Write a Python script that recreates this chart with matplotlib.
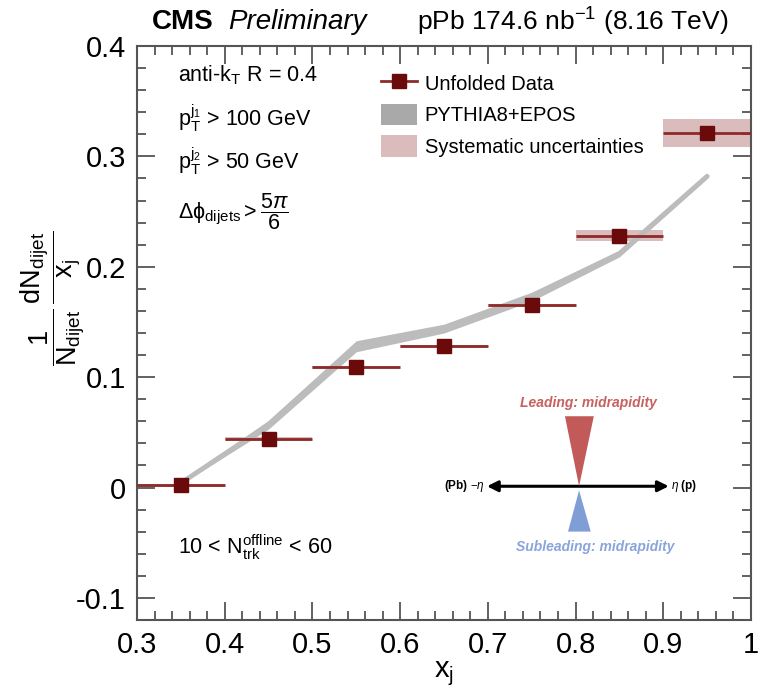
import numpy as np
import matplotlib
matplotlib.use("Agg")
import matplotlib.pyplot as plt
from matplotlib.patches import Rectangle, Polygon, Patch
from matplotlib.lines import Line2D

plt.rcParams['font.family'] = ['Liberation Sans', 'DejaVu Sans']
plt.rcParams['mathtext.fontset'] = 'custom'
plt.rcParams['mathtext.rm'] = 'Liberation Sans'
plt.rcParams['mathtext.it'] = 'Liberation Sans:italic'
plt.rcParams['mathtext.bf'] = 'Liberation Sans:bold'

# x_j bins and unfolded dijet distribution
xj_centers = [0.35, 0.45, 0.55, 0.65, 0.75, 0.85, 0.95]
xj_halfwidth = [0.05, 0.05, 0.05, 0.05, 0.05, 0.05, 0.05]
data_vals = [0.002, 0.044, 0.109, 0.128, 0.165, 0.228, 0.321]
syst_vals = [0.0015, 0.0015, 0.0015, 0.0015, 0.0015, 0.005, 0.0125]

# PYTHIA8+EPOS prediction (band)
mc_vals = [0.004, 0.057, 0.128, 0.144, 0.173, 0.212, 0.282]
mc_err = [0.001, 0.004, 0.005, 0.004, 0.004, 0.003, 0.002]

xticks = [0.3, 0.4, 0.5, 0.6, 0.7, 0.8, 0.9, 1.0]
xtick_labels = ['0.3', '0.4', '0.5', '0.6', '0.7', '0.8', '0.9', '1']
yticks = [-0.1, 0, 0.1, 0.2, 0.3, 0.4]
ytick_labels = ['-0.1', '0', '0.1', '0.2', '0.3', '0.4']

DATA_RED = '#6a0a0a'
BAR_RED = '#8e2a2a'
SYST_PINK = '#dbbcbc'
MC_GRAY = '#bcbcbc'
AXIS_GRAY = '#555555'

fig = plt.figure(figsize=(7.59, 6.95), dpi=100)
ax = fig.add_axes([137 / 759, 75 / 695, 614 / 759, 574 / 695])

ax.set_xlim(0.3, 1.0)
ax.set_ylim(-0.12, 0.4)

# systematic uncertainty boxes
for x, hw, y, s in zip(xj_centers, xj_halfwidth, data_vals, syst_vals):
    ax.add_patch(Rectangle((x - hw, y - s), 2 * hw, 2 * s,
                           facecolor=SYST_PINK, edgecolor='none', zorder=1))

# MC band
mc = np.array(mc_vals)
me = np.array(mc_err)
ax.fill_between(xj_centers, mc - me, mc + me, color=MC_GRAY, lw=0, zorder=2)
ax.plot(xj_centers, mc_vals, color=MC_GRAY, lw=3.5, solid_joinstyle='round',
        solid_capstyle='round', zorder=2)

# data points with bin-width bars
ax.errorbar(xj_centers, data_vals, xerr=xj_halfwidth, fmt='none',
            ecolor=BAR_RED, elinewidth=2.0, capsize=0, zorder=3)
ax.plot(xj_centers, data_vals, 's', color=DATA_RED, markersize=10, zorder=4)

# axes style
ax.set_xticks(xticks)
ax.set_xticklabels(xtick_labels)
ax.set_yticks(yticks)
ax.set_yticklabels(ytick_labels)
ax.set_xticks(np.arange(0.3, 1.0001, 0.02), minor=True)
ax.set_yticks(np.arange(-0.12, 0.4001, 0.02), minor=True)
ax.tick_params(which='both', direction='in', top=True, right=True,
               color=AXIS_GRAY, labelsize=21, width=1.3)
ax.tick_params(which='major', length=13, pad=8)
ax.tick_params(which='minor', length=6.5)
for sp in ax.spines.values():
    sp.set_color(AXIS_GRAY)
    sp.set_linewidth(1.5)

ax.set_xlabel(r'$\mathrm{x_{j}}$', fontsize=21, labelpad=0)
fig.text(0.07, 0.57,
         r'$\dfrac{1}{\mathrm{N_{dijet}}}\,\dfrac{\mathrm{dN_{dijet}}}{\mathrm{x_{j}}}$',
         rotation=90, ha='center', va='center', fontsize=19.5)

# header
fig.text(152 / 759, 1 - 22 / 695, 'CMS', fontsize=20, fontweight='bold',
         ha='left', va='center')
fig.text(228 / 759, 1 - 22 / 695, 'Preliminary', fontsize=20, style='italic',
         ha='left', va='center')
fig.text(728 / 759, 1 - 22 / 695, r'pPb 174.6 nb$^{\mathrm{-1}}$ (8.16 TeV)',
         fontsize=19, ha='right', va='center')

# selection labels
tx = 0.067
ax.text(tx, 0.949, r'anti-k$_{\mathrm{T}}$ R = 0.4', transform=ax.transAxes,
        fontsize=15.5, va='center')
ax.text(tx, 0.874, r'p$_{\mathrm{T}}^{\mathrm{j_1}}$ > 100 GeV', transform=ax.transAxes,
        fontsize=15.5, va='center')
ax.text(tx, 0.799, r'p$_{\mathrm{T}}^{\mathrm{j_2}}$ > 50 GeV', transform=ax.transAxes,
        fontsize=15.5, va='center')
ax.text(tx, 0.712, r'$\mathrm{\Delta\phi_{dijets}} > \dfrac{5\pi}{6}$',
        transform=ax.transAxes, fontsize=15.5, va='center')
ax.text(tx, 0.127, r'10 < N$_{\mathrm{trk}}^{\mathrm{offline}}$ < 60',
        transform=ax.transAxes, fontsize=15.5, va='center')

# legend
handles = [
    Line2D([0], [0], color=BAR_RED, lw=2.0, marker='s', markersize=10,
           markerfacecolor=DATA_RED, markeredgecolor=DATA_RED),
    Patch(facecolor='#a9a9a9', edgecolor='none'),
    Patch(facecolor=SYST_PINK, edgecolor='none'),
]
labels = ['Unfolded Data', 'PYTHIA8+EPOS', 'Systematic uncertainties']
ax.legend(handles, labels, loc='upper left', bbox_to_anchor=(0.385, 0.968),
          frameon=False, fontsize=14.5, handlelength=1.75, handleheight=1.25,
          labelspacing=0.5, handletextpad=0.4, borderaxespad=0)

# kinematic sketch
arrow_y = 0.233
ax.annotate('', xy=(0.570, arrow_y), xytext=(0.866, arrow_y),
            xycoords='axes fraction',
            arrowprops=dict(arrowstyle='<|-|>', color='black', lw=2.2,
                            mutation_scale=16, shrinkA=0, shrinkB=0))
ax.text(0.566, arrow_y, r'(Pb) $-\eta$', transform=ax.transAxes, fontsize=8.5,
        fontweight='bold', ha='right', va='center')
ax.text(0.870, arrow_y, r'$\eta$ (p)', transform=ax.transAxes, fontsize=8.5,
        fontweight='bold', ha='left', va='center')
ax.add_patch(Polygon([(0.697, 0.355), (0.744, 0.355), (0.720, arrow_y)],
                     closed=True, transform=ax.transAxes, facecolor='#c25a5a',
                     edgecolor='none', zorder=5))
ax.add_patch(Polygon([(0.702, 0.154), (0.739, 0.154), (0.720, 0.226)],
                     closed=True, transform=ax.transAxes, facecolor='#7f9ed6',
                     edgecolor='none', zorder=5))
ax.text(0.735, 0.378, 'Leading: midrapidity', transform=ax.transAxes,
        fontsize=10, color='#c86060', style='italic', fontweight='bold',
        ha='center', va='center')
ax.text(0.746, 0.127, 'Subleading: midrapidity', transform=ax.transAxes,
        fontsize=10, color='#8aa4dc', style='italic', fontweight='bold',
        ha='center', va='center')

fig.savefig('out.png', dpi=100)
